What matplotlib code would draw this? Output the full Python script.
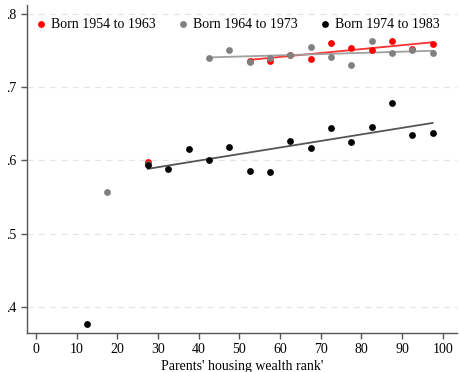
import numpy as np
import matplotlib
matplotlib.use("Agg")
import matplotlib.pyplot as plt

plt.rcParams['font.family'] = ['Liberation Serif', 'DejaVu Serif']
plt.rcParams['font.size'] = 10

labels = ["Born 1954 to 1963", "Born 1964 to 1973", "Born 1974 to 1983"]

red_x = [27.5, 52.5, 57.5, 62.5, 67.5, 72.5, 77.5, 82.5, 87.5, 92.5, 97.5]
red_y = [0.597, 0.7362, 0.7358, 0.744, 0.7385, 0.760, 0.7526, 0.750, 0.7627, 0.7518, 0.7594]

gray_x = [17.5, 27.5, 42.5, 47.5, 52.5, 57.5, 62.5, 67.5, 72.5, 77.5, 82.5, 87.5, 92.5, 97.5]
gray_y = [0.5564, 0.595, 0.7395, 0.750, 0.7335, 0.7399, 0.744, 0.7553, 0.7408, 0.7294, 0.7627, 0.7463, 0.7508, 0.7471]

black_x = [12.5, 27.5, 32.5, 37.5, 42.5, 47.5, 52.5, 57.5, 62.5, 67.5, 72.5, 77.5, 82.5, 87.5, 92.5, 97.5]
black_y = [0.3765, 0.593, 0.588, 0.615, 0.6005, 0.6187, 0.586, 0.5846, 0.627, 0.6174, 0.6447, 0.6247, 0.6452, 0.678, 0.6347, 0.6374]

# lower bounds of the range used for each fitted line
fit_start = [52.5, 42.5, 27.5]

xticks = [0, 10, 20, 30, 40, 50, 60, 70, 80, 90, 100]
yticks = [0.4, 0.5, 0.6, 0.7, 0.8]
ytick_labels = [".4", ".5", ".6", ".7", ".8"]

point_colors = ["#ff0000", "#808080", "#000000"]
line_colors = ["#ff3030", "#a0a0a0", "#555555"]

fig = plt.figure(figsize=(4.6, 3.72), dpi=100)
ax = fig.add_axes([0.0587, 0.1056, 0.934, 0.881])

series = [(red_x, red_y), (gray_x, gray_y), (black_x, black_y)]
for (xs, ys), c, lc, lab, fs in zip(series, point_colors, line_colors, labels, fit_start):
    xs = np.array(xs); ys = np.array(ys)
    ax.scatter(xs, ys, s=24, color=c, label=lab, zorder=3, linewidths=0)
    m = xs >= fs
    b1, b0 = np.polyfit(xs[m], ys[m], 1)
    xl = np.array([xs[m].min(), xs[m].max()])
    ax.plot(xl, b0 + b1 * xl, color=lc, lw=1.3, zorder=2)

ax.set_xlim(-2.2, 103.4)
ax.set_ylim(0.3646, 0.812)
ax.set_xticks(xticks)
ax.set_yticks(yticks)
ax.set_yticklabels(ytick_labels)
ax.yaxis.grid(True, color="#e6e6e6", ls=(0, (5, 4)), lw=0.9)
ax.set_axisbelow(True)
for s in ["top", "right"]:
    ax.spines[s].set_visible(False)
for s in ["left", "bottom"]:
    ax.spines[s].set_color("#555555")
    ax.spines[s].set_linewidth(1.0)
ax.tick_params(colors="#555555", labelcolor="black", length=4, width=1.0, labelsize=10)
ax.set_xlabel("Parents' housing wealth rank'", fontsize=10, labelpad=3)

leg = ax.legend(loc="upper left", bbox_to_anchor=(-0.006, 0.99), ncol=3, frameon=False,
                handletextpad=0.2, columnspacing=1.5, markerscale=1.0,
                borderaxespad=0.3, handlelength=1.0, fontsize=10)

fig.savefig("out.png", dpi=100)
